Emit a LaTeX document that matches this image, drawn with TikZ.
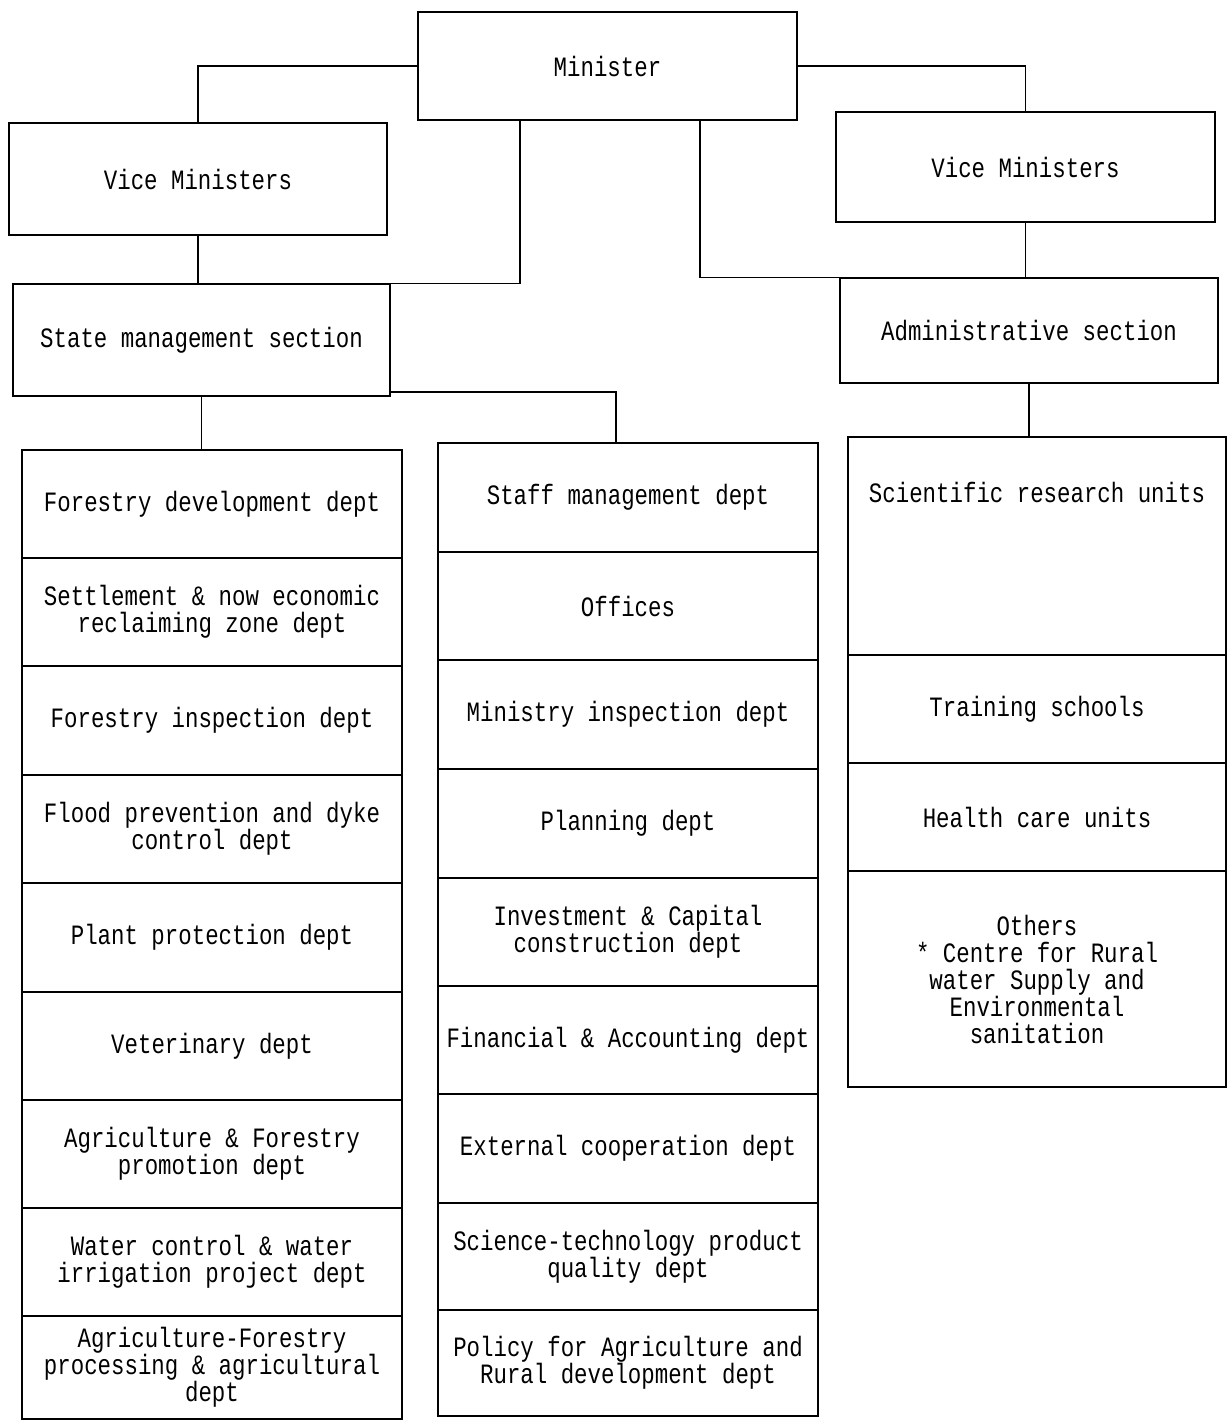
\documentclass[tikz,border=0pt]{standalone}
\usepackage{fontspec}
\newfontfamily\tw[FakeStretch=0.8]{Liberation Mono}
\begin{document}
\begin{tikzpicture}[x=1pt,y=-1pt,
  box/.style={draw, line width=1.6pt, inner sep=0pt, align=center,
    font=\tw\fontsize{28}{27}\selectfont},
  txt/.style={inner sep=0pt, align=center, font=\tw\fontsize{28}{27}\selectfont},
  conn/.style={line width=1.4pt}]
\useasboundingbox (0,0) rectangle (1229,1421);
% top boxes
\node[box, minimum width=379pt, minimum height=108pt] (min) at (607.5,66) {Minister};
\node[box, minimum width=378pt, minimum height=112pt] (lvm) at (198,179) {Vice Ministers};
\node[box, minimum width=379pt, minimum height=110pt] (rvm) at (1025.5,167) {Vice Ministers};
\node[box, minimum width=377pt, minimum height=112pt] (sms) at (201.5,340) {State management section};
\node[box, minimum width=378pt, minimum height=105pt] (adm) at (1029,330.5) {Administrative section};
% left column
\node[box, minimum width=380pt, minimum height=108pt] (L1) at (212,504) {Forestry development dept};
\node[box, minimum width=380pt, minimum height=108pt] (L2) at (212,612) {Settlement \& now economic\\reclaiming zone dept};
\node[box, minimum width=380pt, minimum height=109pt] (L3) at (212,720.5) {Forestry inspection dept};
\node[box, minimum width=380pt, minimum height=108pt] (L4) at (212,829) {Flood prevention and dyke\\control dept};
\node[box, minimum width=380pt, minimum height=109pt] (L5) at (212,937.5) {Plant protection dept};
\node[box, minimum width=380pt, minimum height=108pt] (L6) at (212,1046) {Veterinary dept};
\node[box, minimum width=380pt, minimum height=108pt] (L7) at (212,1154) {Agriculture \& Forestry\\promotion dept};
\node[box, minimum width=380pt, minimum height=108pt] (L8) at (212,1262) {Water control \& water\\irrigation project dept};
\node[box, minimum width=380pt, minimum height=103pt] (L9) at (212,1367.5) {Agriculture-Forestry\\processing \& agricultural\\dept};
% middle column
\node[box, minimum width=380pt, minimum height=109pt] (M1) at (628,497.5) {Staff management dept};
\node[box, minimum width=380pt, minimum height=108pt] (M2) at (628,606) {Offices};
\node[box, minimum width=380pt, minimum height=109pt] (M3) at (628,714.5) {Ministry inspection dept};
\node[box, minimum width=380pt, minimum height=109pt] (M4) at (628,823.5) {Planning dept};
\node[box, minimum width=380pt, minimum height=108pt] (M5) at (628,932) {Investment \& Capital\\construction dept};
\node[box, minimum width=380pt, minimum height=108pt] (M6) at (628,1040) {Financial \& Accounting dept};
\node[box, minimum width=380pt, minimum height=109pt] (M7) at (628,1148.5) {External cooperation dept};
\node[box, minimum width=380pt, minimum height=107pt] (M8) at (628,1256.5) {Science-technology product\\quality dept};
\node[box, minimum width=380pt, minimum height=106pt] (M9) at (628,1363) {Policy for Agriculture and\\Rural development dept};
% right column
\node[box, minimum width=378pt, minimum height=218pt] (R1) at (1037,546) {};
\node[txt, anchor=north] (R1t) at (1037,482) {Scientific research units};
\node[box, minimum width=378pt, minimum height=108pt] (R2) at (1037,709) {Training schools};
\node[box, minimum width=378pt, minimum height=108pt] (R3) at (1037,817) {Health care units};
\node[box, minimum width=378pt, minimum height=216pt] (R4) at (1037,979) {Others\\* Centre for Rural\\water Supply and\\Environmental\\sanitation};
% connectors
\coordinate (m1) at (520,0);
\coordinate (m2) at (700,0);
\coordinate (c3) at (616,0);
\draw[conn] (min.west) -| (lvm.north);
\draw[conn] (min.east) -| (rvm.north);
\draw[conn] (m1 |- min.south) |- (sms.north east);
\draw[conn] (m2 |- min.south) |- (adm.north west);
\draw[conn] (lvm.south) -- (lvm.south |- sms.north);
\draw[conn] (rvm.south) -- (rvm.south |- adm.north);
\draw[conn] (sms.south) -- (sms.south |- L1.north);
\draw[conn] ([yshift=5pt]sms.south east) -| (c3 |- M1.north);
\draw[conn] (adm.south) -- (adm.south |- R1.north);
\end{tikzpicture}
\end{document}
